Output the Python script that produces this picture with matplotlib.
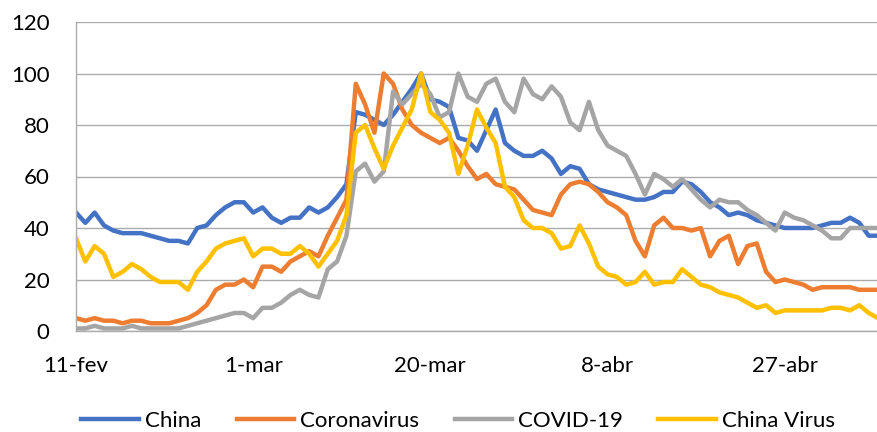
import matplotlib
matplotlib.use("Agg")
import matplotlib.pyplot as plt
import numpy as np
import pandas as pd

plt.rcParams['font.family'] = ['Lato', 'DejaVu Sans']

# Daily search interest, 11 Feb 2020 onwards (87 days)
dates = pd.date_range('2020-02-11', periods=87, freq='D')

china = [46, 42, 46, 41, 39, 38, 38, 38, 37, 36, 35, 35, 34, 40, 41, 45, 48, 50, 50, 46,
         48, 44, 42, 44, 44, 48, 46, 48, 52, 57,
         85, 84, 82, 80, 84, 89, 94, 100, 90, 89,
         87, 75, 74, 70, 78, 86, 73, 70, 68, 68,
         70, 67, 61, 64, 63, 57, 55, 54, 53, 52,
         51, 51, 52, 54, 54, 58, 57, 54, 50, 48,
         45, 46, 45, 43, 42, 41, 40, 40, 40, 40,
         41, 42, 42, 44, 42, 37, 37]

coronavirus = [5, 4, 5, 4, 4, 3, 4, 4, 3, 3, 3, 4, 5, 7, 10, 16, 18, 18, 20, 17,
               25, 25, 23, 27, 29, 31, 29, 37, 44, 51,
               96, 88, 77, 100, 96, 86, 80, 77, 75, 73,
               75, 70, 64, 59, 61, 57, 56, 55, 51, 47,
               46, 45, 53, 57, 58, 57, 54, 50, 48, 45,
               35, 29, 41, 44, 40, 40, 39, 40, 29, 35,
               37, 26, 33, 34, 23, 19, 20, 19, 18, 16,
               17, 17, 17, 17, 16, 16, 16]

covid19 = [1, 1, 2, 1, 1, 1, 2, 1, 1, 1, 1, 1, 2, 3, 4, 5, 6, 7, 7, 5,
           9, 9, 11, 14, 16, 14, 13, 24, 27, 37,
           62, 65, 58, 62, 93, 88, 92, 96, 92, 83,
           85, 100, 91, 89, 96, 98, 89, 85, 98, 92,
           90, 95, 91, 81, 78, 89, 78, 72, 70, 68,
           61, 53, 61, 59, 56, 59, 55, 51, 48, 51,
           50, 50, 47, 45, 42, 39, 46, 44, 43, 41,
           39, 36, 36, 40, 40, 40, 40]

china_virus = [36, 27, 33, 30, 21, 23, 26, 24, 21, 19, 19, 19, 16, 23, 27, 32, 34, 35, 36, 29,
               32, 32, 30, 30, 33, 30, 25, 30, 35, 45,
               77, 80, 71, 63, 72, 79, 86, 100, 85, 82,
               77, 61, 72, 86, 79, 73, 56, 52, 43, 40,
               40, 38, 32, 33, 41, 34, 25, 22, 21, 18,
               19, 23, 18, 19, 19, 24, 21, 18, 17, 15,
               14, 13, 11, 9, 10, 7, 8, 8, 8, 8,
               8, 9, 9, 8, 10, 7, 5]

series_names = ['China', 'Coronavirus', 'COVID-19', 'China Virus']
colors = ['#4472C4', '#ED7D31', '#A5A5A5', '#FFC000']
meses = {2: 'fev', 3: 'mar', 4: 'abr', 5: 'mai'}

fig = plt.figure(figsize=(8.78, 4.32), dpi=100)
ax = fig.add_axes([76 / 878, 101 / 432, 802 / 878, 309 / 432])

for vals, name, c in zip([china, coronavirus, covid19, china_virus], series_names, colors):
    ax.plot(dates, vals, color=c, lw=3.2, label=name, solid_joinstyle='round')

ax.set_ylim(0, 120)
ax.set_yticks(np.arange(0, 121, 20))
ax.set_xlim(dates[0], dates[-1])
tick_dates = dates[::19]
ax.set_xticks(tick_dates)
ax.set_xticklabels([f"{d.day}-{meses[d.month]}" for d in tick_dates])

ax.grid(axis='y', color='#ABABAB', lw=1)
ax.set_axisbelow(True)
for s in ['top', 'right']:
    ax.spines[s].set_visible(False)
for s in ['left', 'bottom']:
    ax.spines[s].set_color('#ABABAB')
    ax.spines[s].set_linewidth(1)
ax.tick_params(length=0, labelsize=16, colors='black')
ax.tick_params(axis='y', pad=19)
ax.tick_params(axis='x', pad=18)

fig.legend(loc='center', bbox_to_anchor=(458 / 878, 1 - 421 / 432), ncol=4,
           frameon=False, fontsize=16, handlelength=2.6, handletextpad=0.25,
           columnspacing=1.6)

fig.savefig('out.png', dpi=100)
